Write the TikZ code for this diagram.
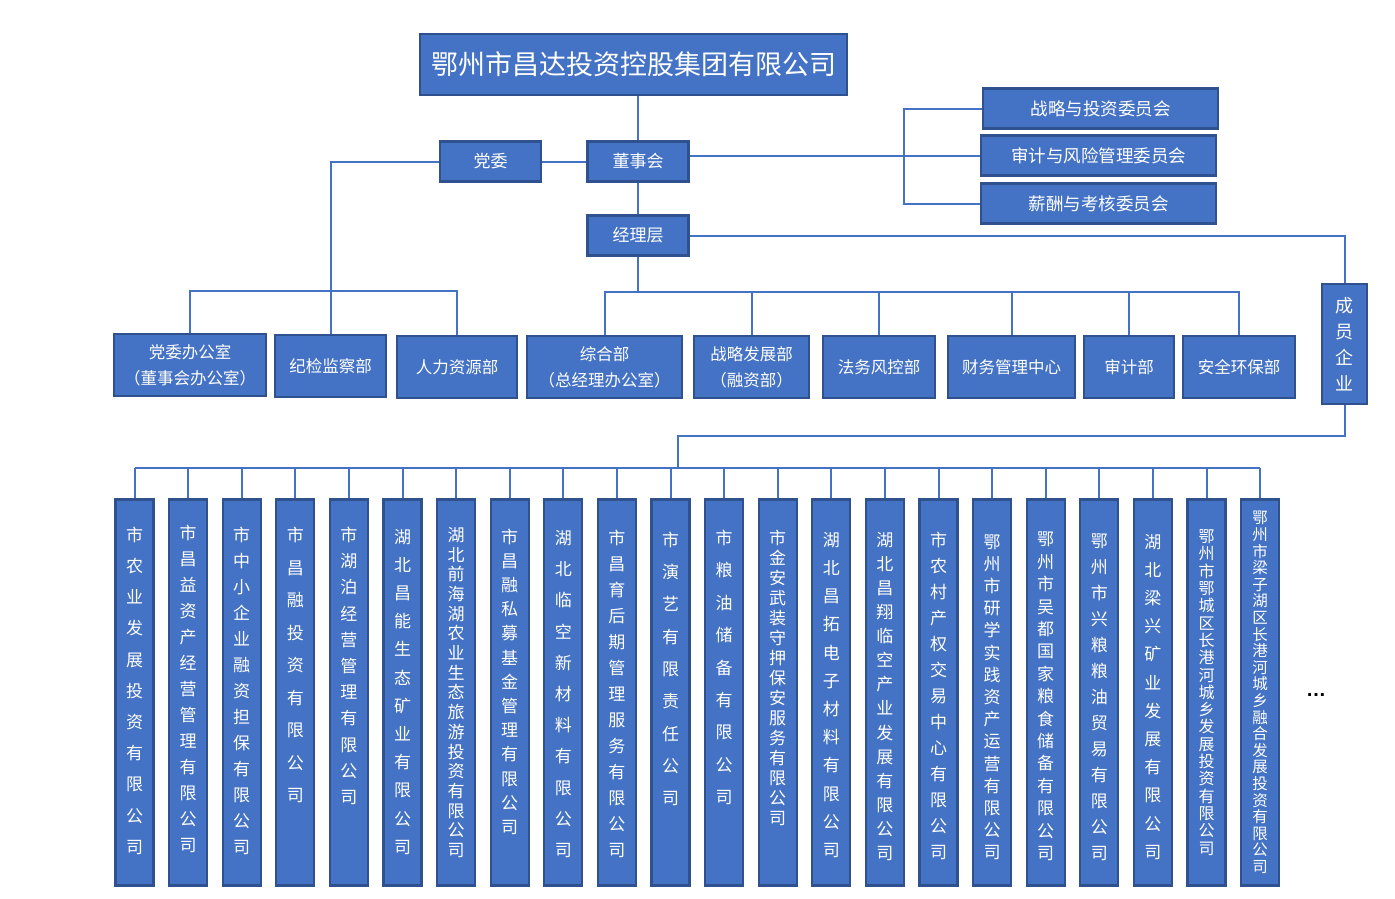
\documentclass[tikz,border=0pt]{standalone}
\usepackage{fontspec}
\setmainfont{Noto Sans CJK SC}
\newfontfamily\latinfont{Liberation Sans}
\XeTeXlinebreaklocale "zh"
\XeTeXlinebreakskip=0pt plus 1pt
\usetikzlibrary{positioning, calc}
\definecolor{boxblue}{RGB}{68,114,196}
\definecolor{edgeblue}{RGB}{47,82,143}

\begin{document}
\begin{tikzpicture}[x=1pt, y=-1pt,
    org_box/.style={draw=edgeblue, line width=2.2pt, fill=boxblue, text=white, inner sep=0pt, align=center},
    head_box/.style={org_box, minimum width=427, minimum height=61, font=\fontsize{27}{32}\selectfont},
    lead_box/.style={org_box, minimum width=101, minimum height=40, font=\fontsize{17}{20}\selectfont},
    cmte_box/.style={org_box, minimum width=235, minimum height=40, font=\fontsize{17.5}{20}\selectfont},
    dept_box/.style={org_box, minimum height=62, font=\fontsize{16.5}{26}\selectfont},
    firm_box/.style={org_box, minimum width=38, minimum height=386},
    firm_text/.style={text=white, inner sep=0pt, text width=20pt, align=center},
    link/.style={draw=boxblue, line width=2pt}
]

    % page
    \fill[white] (0,0) rectangle (1395,899);
    \useasboundingbox (0,0) rectangle (1395,899);

    % Group and leadership
    \node[head_box] (group_hq) at (633.5,64.5) {鄂州市昌达投资控股集团有限公司};
    \node[lead_box] (party_cmte) at (490.5,161.5) {党委};
    \node[lead_box] (board) at (638,161.5) {董事会};
    \node[lead_box] (mgmt) at (638,235.5) {经理层};

    % Board committees
    \node[cmte_box] (strat_cmte) at (1100.5,108.5) {战略与投资委员会};
    \node[cmte_box] (audit_cmte) at (1098.5,155.5) {审计与风险管理委员会};
    \node[cmte_box] (pay_cmte) at (1098.5,203.5) {薪酬与考核委员会};

    % Departments
    \node[dept_box, minimum width=152] (party_office) at (190,365) {党委办公室\\（董事会办公室）};
    \node[dept_box, minimum width=111] (discipline) at (330.5,366) {纪检监察部};
    \node[dept_box, minimum width=120] (hr_dept) at (457,367) {人力资源部};
    \node[dept_box, minimum width=155] (general) at (604.5,367) {综合部\\（总经理办公室）};
    \node[dept_box, minimum width=115] (strategy) at (751.5,367) {战略发展部\\（融资部）};
    \node[dept_box, minimum width=112] (legal) at (879,367) {法务风控部};
    \node[dept_box, minimum width=127] (finance) at (1011.5,367) {财务管理中心};
    \node[dept_box, minimum width=90] (audit_dept) at (1129,367) {审计部};
    \node[dept_box, minimum width=112] (safety) at (1239,367) {安全环保部};

    % Member firms header
    \node[org_box, minimum width=45, minimum height=120] (firms) at (1344.5,344) {};
    \node[firm_text, font=\fontsize{18}{26}\selectfont] (firms_text) at (firms.center) {成员企业};

    % Member firms: name / line skip / text centre / font size
    \foreach \nm/\sk/\ty/\fs [count=\i] in {
        市农业发展投资有限公司/31.2/690.8/17,
        市昌益资产经营管理有限公司/26/689/17,
        市中小企业融资担保有限公司/26/690.8/17,
        市昌融投资有限公司/32.5/665/17,
        市湖泊经营管理有限公司/26.2/666/17,
        湖北昌能生态矿业有限公司/28.2/691.7/17,
        湖北前海湖农业生态旅游投资有限公司/19.7/692.5/17,
        市昌融私募基金管理有限公司/24.2/681.7/17,
        湖北临空新材料有限公司/31.2/694/17,
        市昌育后期管理服务有限公司/26/694/17,
        市演艺有限责任公司/32.3/669/17,
        市粮油储备有限公司/32.4/667.5/17,
        市金安武装守押保安服务有限公司/20/678/17,
        湖北昌拓电子材料有限公司/28.2/695/17,
        湖北昌翔临空产业发展有限公司/24.1/696.5/17,
        市农村产权交易中心有限公司/26/695.8/17,
        鄂州市研学实践资产运营有限公司/22.2/697.3/17,
        鄂州市吴都国家粮食储备有限公司/22.4/696.5/17,
        鄂州市兴粮粮油贸易有限公司/26/697.3/17,
        湖北梁兴矿业发展有限公司/28.2/696.7/17,
        鄂州市鄂城区长港河城乡发展投资有限公司/17.3/692.5/16,
        鄂州市梁子湖区长港河城乡融合发展投资有限公司/16.6/692.5/15.5} {
        \node[firm_box] (firm_\i) at ({134.5+(\i-1)*53.6},692.5) {};
        \node[firm_text, font=\fontsize{\fs}{\sk}\selectfont] (firm_name_\i) at ({134.5+(\i-1)*53.6},\ty) {\nm};
    }
    \node[anchor=base, font=\latinfont\bfseries\fontsize{20}{20}\selectfont] (more_firms) at (1316,696) {…};

    % Leadership links
    \draw[link] (group_hq.south -| board) -- (board.north);
    \draw[link] (board.south) -- (mgmt.north);
    \draw[link] (party_cmte) -- (board);

    % Committee bracket
    \coordinate (cmte_brk) at (904,0);
    \draw[link] (board.east |- audit_cmte) -- (audit_cmte.west);
    \draw[link] (strat_cmte.west) -- (strat_cmte.west -| cmte_brk) -- (pay_cmte.west -| cmte_brk) -- (pay_cmte.west);

    % Party departments
    \coordinate (party_bar) at (0,291);
    \draw[link] (party_cmte.west) -| (discipline.north);
    \draw[link] (party_office.north) |- (party_bar -| hr_dept) -- (hr_dept.north);

    % Management departments
    \coordinate (mgmt_bar) at (0,292);
    \draw[link] (mgmt.south) -- (mgmt.south |- mgmt_bar);
    \draw[link] (general.north) |- (mgmt_bar -| safety) -- (safety.north);
    \foreach \d in {strategy, legal, finance, audit_dept}
        \draw[link] (\d.north) -- (\d.north |- mgmt_bar);

    % Member firms
    \draw[link] (mgmt.east) -| (firms.north);
    \coordinate (firm_mid) at (678,436);
    \coordinate (firm_bar) at (678,468);
    \draw[link] (firms.south) |- (firm_mid) -- (firm_bar);
    \draw[link] (firm_1.north |- firm_bar) -- (firm_22.north |- firm_bar);
    \foreach \i in {1,...,22}
        \draw[link] (firm_\i.north) -- (firm_\i.north |- firm_bar);

\end{tikzpicture}
\end{document}
